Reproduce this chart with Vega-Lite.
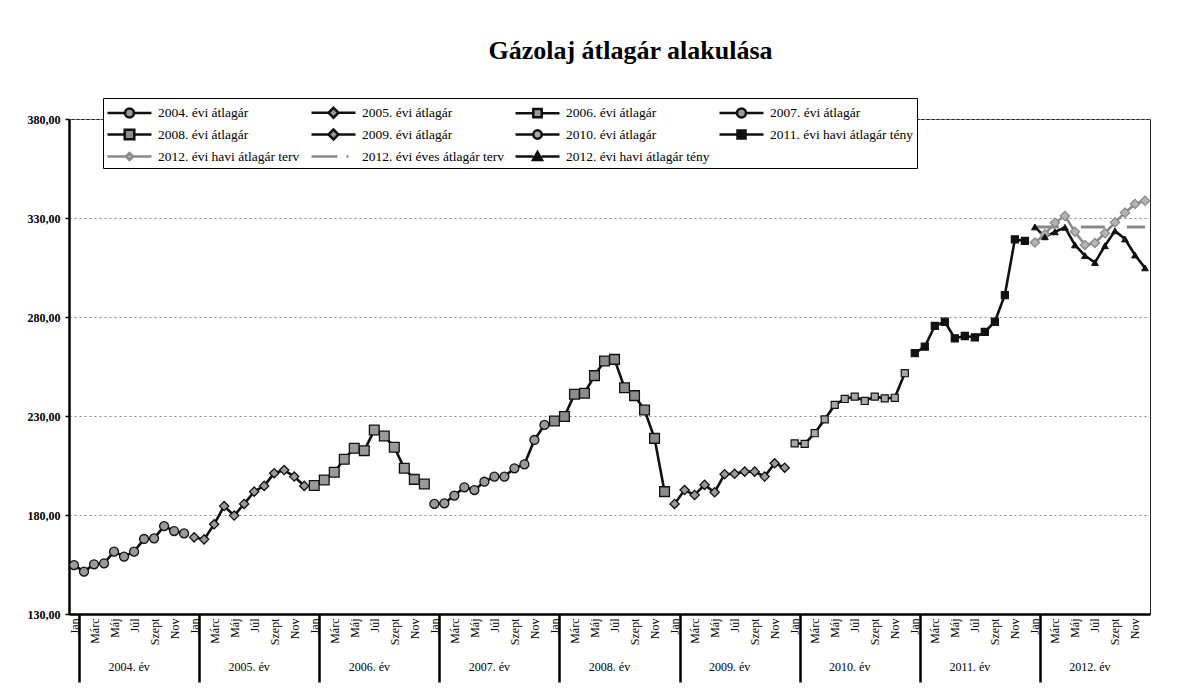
{
"$schema": "https://vega.github.io/schema/vega-lite/v6.json",
"width": 1081, "height": 495,
"autosize": {"type": "none"},
"padding": {"left": 69, "top": 119, "right": 50, "bottom": 75},
"background": "white",
"title": {"text": "Gázolaj átlagár alakulása", "font": "Liberation Serif", "fontSize": 26, "fontWeight": "bold", "anchor": "middle", "offset": 34, "dx": 21, "color": "black"},
"config": {"view": {"stroke": "#222", "strokeWidth": 1}, "axis": {"labelFont": "Liberation Serif"}, "legend": {"labelFont": "Liberation Serif"}},
"data": {"values": [
{"s":"2004. évi átlagár","m":"2004-01","v":154.7},{"s":"2004. évi átlagár","m":"2004-02","v":151.4},{"s":"2004. évi átlagár","m":"2004-03","v":155.1},{"s":"2004. évi átlagár","m":"2004-04","v":155.6},{"s":"2004. évi átlagár","m":"2004-05","v":161.5},{"s":"2004. évi átlagár","m":"2004-06","v":159.0},{"s":"2004. évi átlagár","m":"2004-07","v":161.5},{"s":"2004. évi átlagár","m":"2004-08","v":167.9},{"s":"2004. évi átlagár","m":"2004-09","v":168.2},{"s":"2004. évi átlagár","m":"2004-10","v":174.4},{"s":"2004. évi átlagár","m":"2004-11","v":171.9},{"s":"2004. évi átlagár","m":"2004-12","v":170.7},
{"s":"2005. évi átlagár","m":"2005-01","v":168.7},{"s":"2005. évi átlagár","m":"2005-02","v":167.7},{"s":"2005. évi átlagár","m":"2005-03","v":175.3},{"s":"2005. évi átlagár","m":"2005-04","v":184.5},{"s":"2005. évi átlagár","m":"2005-05","v":179.7},{"s":"2005. évi átlagár","m":"2005-06","v":185.6},{"s":"2005. évi átlagár","m":"2005-07","v":191.8},{"s":"2005. évi átlagár","m":"2005-08","v":194.7},{"s":"2005. évi átlagár","m":"2005-09","v":201.1},{"s":"2005. évi átlagár","m":"2005-10","v":202.7},{"s":"2005. évi átlagár","m":"2005-11","v":199.4},{"s":"2005. évi átlagár","m":"2005-12","v":194.7},
{"s":"2006. évi átlagár","m":"2006-01","v":194.9},{"s":"2006. évi átlagár","m":"2006-02","v":197.7},{"s":"2006. évi átlagár","m":"2006-03","v":201.6},{"s":"2006. évi átlagár","m":"2006-04","v":208.2},{"s":"2006. évi átlagár","m":"2006-05","v":213.7},{"s":"2006. évi átlagár","m":"2006-06","v":212.5},{"s":"2006. évi átlagár","m":"2006-07","v":222.9},{"s":"2006. évi átlagár","m":"2006-08","v":219.9},{"s":"2006. évi átlagár","m":"2006-09","v":214.2},{"s":"2006. évi átlagár","m":"2006-10","v":203.6},{"s":"2006. évi átlagár","m":"2006-11","v":198.0},{"s":"2006. évi átlagár","m":"2006-12","v":195.7},
{"s":"2007. évi átlagár","m":"2007-01","v":185.6},{"s":"2007. évi átlagár","m":"2007-02","v":185.9},{"s":"2007. évi átlagár","m":"2007-03","v":189.8},{"s":"2007. évi átlagár","m":"2007-04","v":194.0},{"s":"2007. évi átlagár","m":"2007-05","v":192.6},{"s":"2007. évi átlagár","m":"2007-06","v":196.8},{"s":"2007. évi átlagár","m":"2007-07","v":199.4},{"s":"2007. évi átlagár","m":"2007-08","v":199.4},{"s":"2007. évi átlagár","m":"2007-09","v":203.6},{"s":"2007. évi átlagár","m":"2007-10","v":205.6},{"s":"2007. évi átlagár","m":"2007-11","v":217.9},{"s":"2007. évi átlagár","m":"2007-12","v":225.5},
{"s":"2008. évi átlagár","m":"2008-01","v":227.5},{"s":"2008. évi átlagár","m":"2008-02","v":229.7},{"s":"2008. évi átlagár","m":"2008-03","v":241.0},{"s":"2008. évi átlagár","m":"2008-04","v":241.5},{"s":"2008. évi átlagár","m":"2008-05","v":250.4},{"s":"2008. évi átlagár","m":"2008-06","v":257.8},{"s":"2008. évi átlagár","m":"2008-07","v":258.6},{"s":"2008. évi átlagár","m":"2008-08","v":244.3},{"s":"2008. évi átlagár","m":"2008-09","v":240.3},{"s":"2008. évi átlagár","m":"2008-10","v":233.0},{"s":"2008. évi átlagár","m":"2008-11","v":218.7},{"s":"2008. évi átlagár","m":"2008-12","v":191.8},
{"s":"2009. évi átlagár","m":"2009-01","v":185.6},{"s":"2009. évi átlagár","m":"2009-02","v":192.6},{"s":"2009. évi átlagár","m":"2009-03","v":190.1},{"s":"2009. évi átlagár","m":"2009-04","v":195.2},{"s":"2009. évi átlagár","m":"2009-05","v":191.5},{"s":"2009. évi átlagár","m":"2009-06","v":200.6},{"s":"2009. évi átlagár","m":"2009-07","v":200.8},{"s":"2009. évi átlagár","m":"2009-08","v":201.9},{"s":"2009. évi átlagár","m":"2009-09","v":201.9},{"s":"2009. évi átlagár","m":"2009-10","v":199.4},{"s":"2009. évi átlagár","m":"2009-11","v":206.1},{"s":"2009. évi átlagár","m":"2009-12","v":203.9},
{"s":"2010. évi átlagár","m":"2010-01","v":216.2},{"s":"2010. évi átlagár","m":"2010-02","v":215.9},{"s":"2010. évi átlagár","m":"2010-03","v":221.3},{"s":"2010. évi átlagár","m":"2010-04","v":228.3},{"s":"2010. évi átlagár","m":"2010-05","v":235.6},{"s":"2010. évi átlagár","m":"2010-06","v":238.6},{"s":"2010. évi átlagár","m":"2010-07","v":239.8},{"s":"2010. évi átlagár","m":"2010-08","v":237.6},{"s":"2010. évi átlagár","m":"2010-09","v":239.8},{"s":"2010. évi átlagár","m":"2010-10","v":238.9},{"s":"2010. évi átlagár","m":"2010-11","v":239.2},{"s":"2010. évi átlagár","m":"2010-12","v":251.6},
{"s":"2011. évi havi átlagár tény","m":"2011-01","v":261.7},{"s":"2011. évi havi átlagár tény","m":"2011-02","v":265.0},{"s":"2011. évi havi átlagár tény","m":"2011-03","v":275.5},{"s":"2011. évi havi átlagár tény","m":"2011-04","v":277.6},{"s":"2011. évi havi átlagár tény","m":"2011-05","v":269.2},{"s":"2011. évi havi átlagár tény","m":"2011-06","v":270.4},{"s":"2011. évi havi átlagár tény","m":"2011-07","v":269.7},{"s":"2011. évi havi átlagár tény","m":"2011-08","v":272.5},{"s":"2011. évi havi átlagár tény","m":"2011-09","v":277.6},{"s":"2011. évi havi átlagár tény","m":"2011-10","v":291.1},{"s":"2011. évi havi átlagár tény","m":"2011-11","v":319.2},{"s":"2011. évi havi átlagár tény","m":"2011-12","v":318.4},
{"s":"2012. évi havi átlagár terv","m":"2012-01","v":317.6},{"s":"2012. évi havi átlagár terv","m":"2012-02","v":321.8},{"s":"2012. évi havi átlagár terv","m":"2012-03","v":327.6},{"s":"2012. évi havi átlagár terv","m":"2012-04","v":331.0},{"s":"2012. évi havi átlagár terv","m":"2012-05","v":323.1},{"s":"2012. évi havi átlagár terv","m":"2012-06","v":316.4},{"s":"2012. évi havi átlagár terv","m":"2012-07","v":317.4},{"s":"2012. évi havi átlagár terv","m":"2012-08","v":322.3},{"s":"2012. évi havi átlagár terv","m":"2012-09","v":327.8},{"s":"2012. évi havi átlagár terv","m":"2012-10","v":332.7},{"s":"2012. évi havi átlagár terv","m":"2012-11","v":337.1},{"s":"2012. évi havi átlagár terv","m":"2012-12","v":338.7},
{"s":"2012. évi éves átlagár terv","m":"2012-01","v":325.5},{"s":"2012. évi éves átlagár terv","m":"2012-02","v":325.5},{"s":"2012. évi éves átlagár terv","m":"2012-03","v":325.5},{"s":"2012. évi éves átlagár terv","m":"2012-04","v":325.5},{"s":"2012. évi éves átlagár terv","m":"2012-05","v":325.5},{"s":"2012. évi éves átlagár terv","m":"2012-06","v":325.5},{"s":"2012. évi éves átlagár terv","m":"2012-07","v":325.5},{"s":"2012. évi éves átlagár terv","m":"2012-08","v":325.5},{"s":"2012. évi éves átlagár terv","m":"2012-09","v":325.5},{"s":"2012. évi éves átlagár terv","m":"2012-10","v":325.5},{"s":"2012. évi éves átlagár terv","m":"2012-11","v":325.5},{"s":"2012. évi éves átlagár terv","m":"2012-12","v":325.5},
{"s":"2012. évi havi átlagár tény","m":"2012-01","v":325.5},{"s":"2012. évi havi átlagár tény","m":"2012-02","v":320.5},{"s":"2012. évi havi átlagár tény","m":"2012-03","v":323.0},{"s":"2012. évi havi átlagár tény","m":"2012-04","v":325.3},{"s":"2012. évi havi átlagár tény","m":"2012-05","v":316.4},{"s":"2012. évi havi átlagár tény","m":"2012-06","v":311.0},{"s":"2012. évi havi átlagár tény","m":"2012-07","v":307.5},{"s":"2012. évi havi átlagár tény","m":"2012-08","v":316.0},{"s":"2012. évi havi átlagár tény","m":"2012-09","v":323.5},{"s":"2012. évi havi átlagár tény","m":"2012-10","v":319.4},{"s":"2012. évi havi átlagár tény","m":"2012-11","v":311.3},{"s":"2012. évi havi átlagár tény","m":"2012-12","v":304.8}
]},
"resolve": {"axis": {"x": "independent"}},
"encoding": {
  "x": {"field": "m", "type": "ordinal", "sort": "ascending", "scale": {"type": "band", "paddingInner": 0, "paddingOuter": 0}, "axis": null},
  "y": {"field": "v", "type": "quantitative", "scale": {"domain": [130, 380], "nice": false, "zero": false},
        "axis": {"title": null, "values": [130,180,230,280,330,380], "labelExpr": "replace(format(datum.value, '.2f'), '.', ',')",
                 "labelFont": "Liberation Serif", "labelFontSize": 12, "labelFontWeight": "bold", "labelColor": "black", "labelPadding": 5,
                 "domainColor": "black", "domainWidth": 2.5, "tickColor": "black", "tickSize": 4, "tickWidth": 1.5,
                 "grid": true, "gridColor": "#8a8a8a", "gridDash": [2, 3], "gridWidth": 1}}
},
"layer": [
  {"transform": [{"filter": "false"}],
   "mark": {"type": "point", "filled": true, "size": 400, "strokeWidth": 2.5, "opacity": 1},
   "encoding": {
     "shape": {"field": "s", "type": "nominal",
       "scale": {"domain": ["2004. évi átlagár","2008. évi átlagár","2012. évi havi átlagár terv","2005. évi átlagár","2009. évi átlagár","2012. évi éves átlagár terv","2006. évi átlagár","2010. évi átlagár","2012. évi havi átlagár tény","2007. évi átlagár","2011. évi havi átlagár tény"],
                 "range": [
                   "M-1,0H0.75M1.65,0H3.4M0.75,0A0.45,0.45,0,1,1,1.65,0A0.45,0.45,0,1,1,0.75,0Z",
                   "M-1,0H0.72M1.68,0H3.4M0.72,-0.48H1.68V0.48H0.72Z",
                   "M-1,0H0.85M1.55,0H3.4M0.85,0L1.2,-0.35L1.55,0L1.2,0.35Z",
                   "M-1,0H0.7M1.7,0H3.4M0.7,0L1.2,-0.5L1.7,0L1.2,0.5Z",
                   "M-1,0H0.7M1.7,0H3.4M0.7,0L1.2,-0.5L1.7,0L1.2,0.5Z",
                   "M-1,0H1.6M2.5,0H2.7",
                   "M-1,0H0.78M1.62,0H3.4M0.78,-0.42H1.62V0.42H0.78Z",
                   "M-1,0H0.78M1.62,0H3.4M0.78,0A0.42,0.42,0,1,1,1.62,0A0.42,0.42,0,1,1,0.78,0Z",
                   "M-1,0H0.8M1.6,0H3.4M0.75,0.35L1.2,-0.45L1.65,0.35Z",
                   "M-1,0H0.75M1.65,0H3.4M0.75,0A0.45,0.45,0,1,1,1.65,0A0.45,0.45,0,1,1,0.75,0Z",
                   "M-1,0H0.8M1.6,0H3.4M0.8,-0.4H1.6V0.4H0.8Z"]},
       "legend": {"title": null, "orient": "none", "legendX": 34, "legendY": -21, "columns": 4, "gridAlign": "all", "symbolSize": 400, "symbolStrokeWidth": 2.5,
                  "labelFont": "Liberation Serif", "labelFontSize": 13.5, "labelColor": "black", "labelLimit": 240, "labelOffset": 29,
                  "rowPadding": 0, "columnPadding": 4, "padding": 3, "strokeColor": "black", "fillColor": "white"}},
     "fill": {"field": "s", "type": "nominal",
       "scale": {"domain": ["2004. évi átlagár","2008. évi átlagár","2012. évi havi átlagár terv","2005. évi átlagár","2009. évi átlagár","2012. évi éves átlagár terv","2006. évi átlagár","2010. évi átlagár","2012. évi havi átlagár tény","2007. évi átlagár","2011. évi havi átlagár tény"],
                 "range": ["#9a9a9a","#8c8c8c","#b4b4b4","#9a9a9a","#9a9a9a","#8a8a8a","#9a9a9a","#a8a8a8","#111111","#9a9a9a","#111111"]},
       "legend": {"title": null, "orient": "none", "legendX": 34, "legendY": -21, "columns": 4, "gridAlign": "all", "symbolSize": 400, "symbolStrokeWidth": 2.5,
                  "labelFont": "Liberation Serif", "labelFontSize": 13.5, "labelColor": "black", "labelLimit": 240, "labelOffset": 29,
                  "rowPadding": 0, "columnPadding": 4, "padding": 3, "strokeColor": "black", "fillColor": "white"}},
     "stroke": {"field": "s", "type": "nominal",
       "scale": {"domain": ["2004. évi átlagár","2008. évi átlagár","2012. évi havi átlagár terv","2005. évi átlagár","2009. évi átlagár","2012. évi éves átlagár terv","2006. évi átlagár","2010. évi átlagár","2012. évi havi átlagár tény","2007. évi átlagár","2011. évi havi átlagár tény"],
                 "range": ["#111111","#111111","#8a8a8a","#111111","#111111","#8a8a8a","#111111","#111111","#111111","#111111","#111111"]},
       "legend": {"title": null, "orient": "none", "legendX": 34, "legendY": -21, "columns": 4, "gridAlign": "all", "symbolSize": 400, "symbolStrokeWidth": 2.5,
                  "labelFont": "Liberation Serif", "labelFontSize": 13.5, "labelColor": "black", "labelLimit": 240, "labelOffset": 29,
                  "rowPadding": 0, "columnPadding": 4, "padding": 3, "strokeColor": "black", "fillColor": "white"}}}},
  {"transform": [{"filter": {"field": "s", "equal": "2012. évi éves átlagár terv"}}],
   "mark": {"type": "line", "strokeWidth": 3, "strokeDash": [24, 22], "color": "#8a8a8a"},
   "encoding": {}},
  {"transform": [{"filter": {"not": {"field": "s", "equal": "2012. évi éves átlagár terv"}}}],
   "mark": {"type": "line", "strokeWidth": 2.6},
   "encoding": {
     "x": {"field": "m", "type": "ordinal", "sort": "ascending", "scale": {"type": "band", "paddingInner": 0, "paddingOuter": 0},
           "axis": {"orient": "bottom", "title": null, "labelExpr": "['Jan','','Márc','','Máj','','Júl','','Szept','','Nov',''][toNumber(substring(datum.value,5,7))-1]",
                    "labelAngle": 270, "labelFont": "Liberation Serif", "labelFontSize": 12, "labelColor": "black", "labelPadding": -64, "labelOverlap": false,
                    "domainColor": "black", "domainWidth": 2.5, "tickBand": "extent", "tickSize": 68, "tickWidth": 2.5,
                    "tickColor": {"condition": {"test": "substring(datum.value,5,7) == '01'", "value": "black"}, "value": "transparent"}}},
     "stroke": {"field": "s", "type": "nominal", "legend": null},
     "detail": {"field": "s"}}},
  {"transform": [{"filter": {"field": "s", "oneOf": ["2004. évi átlagár", "2007. évi átlagár"]}}],
   "mark": {"type": "point", "shape": "circle", "filled": true, "size": 80, "strokeWidth": 1.3, "opacity": 1},
   "encoding": {"fill": {"field": "s", "type": "nominal", "legend": null}, "stroke": {"field": "s", "type": "nominal", "legend": null}}},
  {"transform": [{"filter": {"field": "s", "oneOf": ["2005. évi átlagár", "2009. évi átlagár", "2012. évi havi átlagár terv"]}}],
   "mark": {"type": "point", "shape": "diamond", "filled": true, "size": 85, "strokeWidth": 1.3, "opacity": 1},
   "encoding": {"fill": {"field": "s", "type": "nominal", "legend": null}, "stroke": {"field": "s", "type": "nominal", "legend": null}}},
  {"transform": [{"filter": {"field": "s", "oneOf": ["2006. évi átlagár", "2008. évi átlagár"]}}],
   "mark": {"type": "point", "shape": "square", "filled": true, "size": 95, "strokeWidth": 1.3, "opacity": 1},
   "encoding": {"fill": {"field": "s", "type": "nominal", "legend": null}, "stroke": {"field": "s", "type": "nominal", "legend": null}}},
  {"transform": [{"filter": {"field": "s", "oneOf": ["2010. évi átlagár", "2011. évi havi átlagár tény"]}}],
   "mark": {"type": "point", "shape": "square", "filled": true, "size": 50, "strokeWidth": 1.2, "opacity": 1},
   "encoding": {"fill": {"field": "s", "type": "nominal", "legend": null}, "stroke": {"field": "s", "type": "nominal", "legend": null}}},
  {"transform": [{"filter": {"field": "s", "equal": "2012. évi havi átlagár tény"}}],
   "mark": {"type": "point", "shape": "triangle-up", "filled": true, "size": 45, "strokeWidth": 1, "opacity": 1},
   "encoding": {
     "x": {"field": "m", "type": "ordinal", "sort": "ascending", "scale": {"type": "band", "paddingInner": 0, "paddingOuter": 0},
           "axis": {"orient": "bottom", "title": null, "labelExpr": "substring(datum.value,5,7) == '07' ? substring(datum.value,0,4) + '. év' : ''",
                    "labelAngle": 0, "labelOffset": -5, "labelPadding": 47, "labelFont": "Liberation Serif", "labelFontSize": 12, "labelColor": "black",
                    "labelOverlap": false, "labelBaseline": "top", "domain": false, "ticks": false, "grid": false}},
     "fill": {"field": "s", "type": "nominal", "legend": null}, "stroke": {"field": "s", "type": "nominal", "legend": null}}}
]
}
